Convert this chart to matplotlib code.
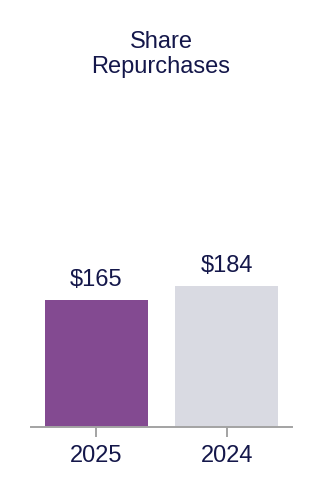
import matplotlib
matplotlib.use("Agg")
import matplotlib.pyplot as plt

categories = ["2025", "2024"]
values = [165, 184]
labels = ["$165", "$184"]
colors = ["#834a91", "#d9dae2"]
title = "Share\nRepurchases"

text_color = "#14174a"
plt.rcParams['font.family'] = ['Liberation Sans', 'DejaVu Sans']

fig = plt.figure(figsize=(3.22, 5.0), dpi=100)
ax = fig.add_axes([0.0963, 0.1466, 0.8105, 0.46])
x = list(range(len(categories)))
ax.bar(x, values, width=0.79, color=colors)
ax.set_xlim(-0.5, 1.5)
ax.set_ylim(0, 300)
for xi, v, lab in zip(x, values, labels):
    ax.annotate(lab, (xi, v), xytext=(0, 10), textcoords="offset points",
                ha="center", va="baseline", fontsize=17, color=text_color)
ax.set_xticks(x)
ax.set_xticklabels(categories, fontsize=17, color=text_color)
ax.tick_params(axis="x", length=7.5, width=1.4, color="#a3a3a3", pad=6)
ax.set_yticks([])
for s in ["top", "right", "left"]:
    ax.spines[s].set_visible(False)
ax.spines["bottom"].set_color("#a3a3a3")
ax.spines["bottom"].set_linewidth(1.4)
fig.text(0.5, 0.937, title, ha="center", va="top", fontsize=17,
         color=text_color, linespacing=1.17)
fig.savefig("out.png", dpi=100)
